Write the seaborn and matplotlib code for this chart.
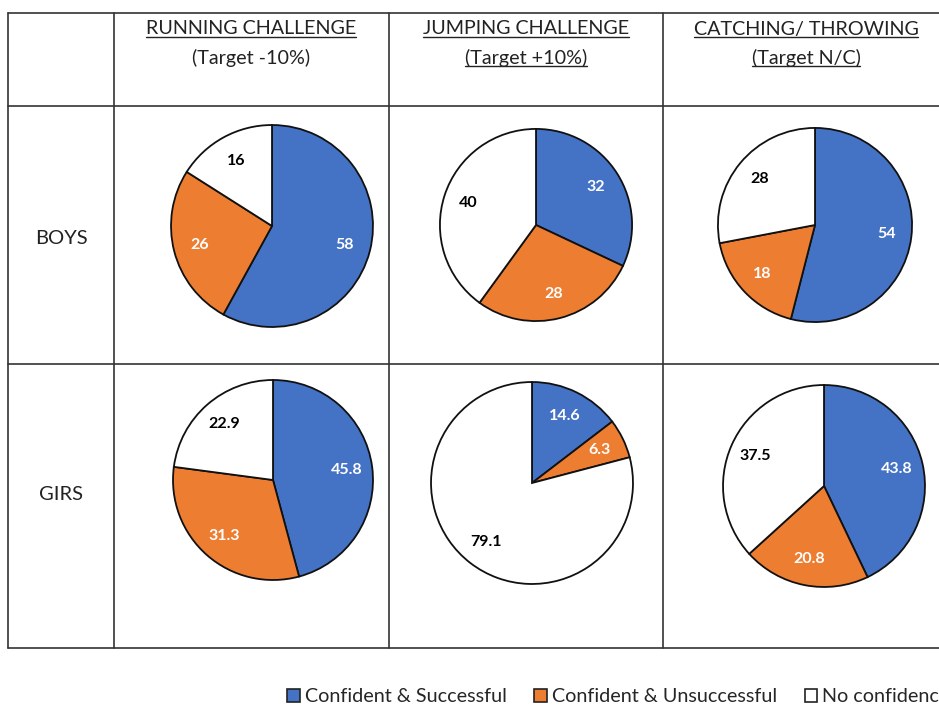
import numpy as np
import matplotlib.pyplot as plt
import seaborn as sns
from matplotlib.lines import Line2D
from matplotlib.patches import Patch

sns.set_theme(style="white")
plt.rcParams['font.family'] = ['Lato', 'DejaVu Sans']

# data
categories = ['Confident & Successful', 'Confident & Unsuccessful', 'No confidence']
challenges = ['RUNNING CHALLENGE', 'JUMPING CHALLENGE', 'CATCHING/ THROWING']
targets = ['(Target -10%)', '(Target +10%)', '(Target N/C)']
groups = ['BOYS', 'GIRS']
boys = [[58, 26, 16], [32, 28, 40], [54, 18, 28]]
girls = [[45.8, 31.3, 22.9], [14.6, 6.3, 79.1], [43.8, 20.8, 37.5]]

colors = ['#4472C4', '#ED7D31', '#FFFFFF']
label_colors = ['white', 'white', 'black']

W, H = 939, 706
fig = plt.figure(figsize=(W / 100, H / 100), dpi=100)
fig.patch.set_facecolor('white')


def fx(x):
    return x / W


def fy(y):
    return 1 - y / H


# table grid (pixel positions of the reference layout)
col_x = [8, 114, 389, 663]
row_y = [13, 106, 364, 648]
for y in row_y:
    fig.add_artist(Line2D([fx(8), 1.0], [fy(y), fy(y)], color='#333333', lw=1.2))
for x in col_x:
    fig.add_artist(Line2D([fx(x), fx(x)], [fy(13), fy(648)], color='#333333', lw=1.2))

# headers
col_centers = [251, 526, 806]
underline_second = [False, True, True]
header_texts = []
for i, (name, tgt) in enumerate(zip(challenges, targets)):
    t1 = fig.text(fx(col_centers[i]), fy(29), name, ha='center', va='center',
                  fontsize=14.2, color='#222222')
    t2 = fig.text(fx(col_centers[i]), fy(58), tgt, ha='center', va='center',
                  fontsize=14.2, color='#222222')
    header_texts.append(t1)
    if underline_second[i]:
        header_texts.append(t2)

# row labels
fig.text(fx(61), fy(238), groups[0], ha='center', va='center', fontsize=14.5, color='#222222')
fig.text(fx(61), fy(495), groups[1], ha='center', va='center', fontsize=14.5, color='#222222')

# pie centres and radii in pixels
centers = [[(272, 226), (536, 225), (815, 225)],
           [(273, 480), (532, 483), (824, 486)]]
radii = [[101, 96, 97], [100, 101, 101]]

for r, data in enumerate([boys, girls]):
    for c, vals in enumerate(data):
        cx, cy = centers[r][c]
        rad = radii[r][c]
        ax = fig.add_axes([fx(cx - rad - 2), fy(cy + rad + 2), (2 * rad + 4) / W, (2 * rad + 4) / H])
        wedges, texts = ax.pie(vals, colors=colors, startangle=90, counterclock=False,
                               labels=[f"{v:g}" for v in vals], labeldistance=0.74,
                               wedgeprops=dict(edgecolor='#111111', linewidth=1.3))
        for t, lc in zip(texts, label_colors):
            t.set_color(lc)
            t.set_fontweight('bold')
            t.set_fontsize(11.5)
            t.set_ha('center')
            t.set_va('center')
        ax.set_xlim(-1.02, 1.02)
        ax.set_ylim(-1.02, 1.02)
        ax.set_aspect('equal')
        ax.axis('off')

# legend, partly cut by the figure edge like the reference
handles = [Patch(facecolor=col, edgecolor='#222222', linewidth=1.2) for col in colors]
fig.legend(handles, categories, loc='center left', bbox_to_anchor=(fx(279), fy(697)),
           ncol=3, frameon=False, fontsize=14.2, handlelength=0.65, handleheight=0.65,
           handletextpad=0.25, columnspacing=1.4, borderaxespad=0)

# underline header text
fig.canvas.draw()
renderer = fig.canvas.get_renderer()
for t in header_texts:
    bb = t.get_window_extent(renderer)
    y = bb.y0 + 1
    fig.add_artist(Line2D([bb.x0 / W, bb.x1 / W], [y / H, y / H], color='#222222', lw=1.0))

fig.savefig('out.png', dpi=100)
